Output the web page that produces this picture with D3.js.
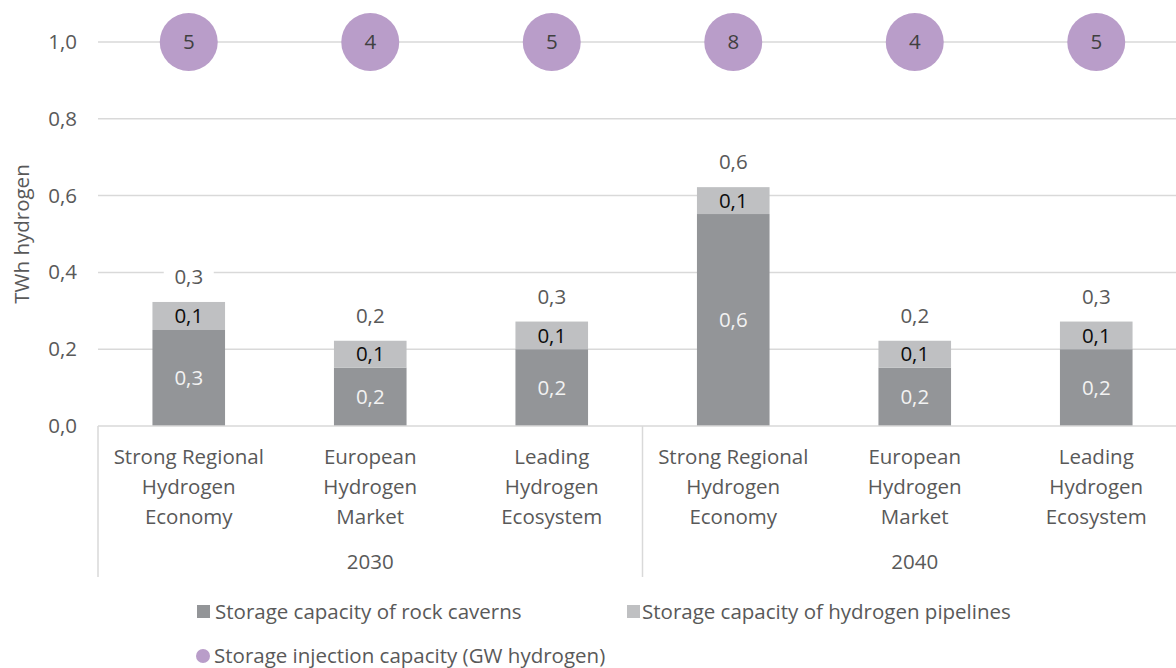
<!DOCTYPE html>
<html>
<head>
<meta charset="utf-8">
<script src="https://cdn.jsdelivr.net/npm/d3@7"></script>
<style>
  body { margin: 0; background: #fff; }
  text { font-family: "Open Sans", "Noto Sans", sans-serif; font-weight: 400; font-size: 20.5px; }
</style>
</head>
<body>
<script>
// Width and height
const w = 1176;
const h = 668;

// data
const categories = [
  ["Strong Regional", "Hydrogen", "Economy"],
  ["European", "Hydrogen", "Market"],
  ["Leading", "Hydrogen", "Ecosystem"],
  ["Strong Regional", "Hydrogen", "Economy"],
  ["European", "Hydrogen", "Market"],
  ["Leading", "Hydrogen", "Ecosystem"]
];
const years = ["2030", "2040"];
const rockCaverns = [0.25, 0.152, 0.2, 0.552, 0.152, 0.2];
const pipelines = [0.073, 0.07, 0.072, 0.07, 0.07, 0.072];
const injection = [5, 4, 5, 8, 4, 5];
const yTicks = [0, 0.2, 0.4, 0.6, 0.8, 1.0];
const seriesNames = ["Storage capacity of rock caverns", "Storage capacity of hydrogen pipelines", "Storage injection capacity (GW hydrogen)"];

const colRock = "#939598";
const colPipe = "#bfc0c2";
const colDot = "#b99dc9";
const textCol = "#595959";

const fmt = v => d3.format(".1f")(v).replace(".", ",");

// scales
const x = d3.scaleBand()
  .domain(d3.range(categories.length))
  .range([98, 1187])
  .paddingInner(0.6)
  .paddingOuter(0.3);

const xYear = d3.scaleBand()
  .domain(years)
  .range([98, 1187]);

const y = d3.scaleLinear()
  .domain([0, 1])
  .range([426, 42]);

// svg
const svg = d3.select("body")
  .append("svg")
  .attr("width", w)
  .attr("height", h);

// gridlines
svg.append("g")
  .selectAll("line")
  .data(yTicks.slice(1))
  .enter()
  .append("line")
  .attr("x1", 98)
  .attr("x2", w)
  .attr("y1", d => y(d))
  .attr("y2", d => y(d))
  .attr("stroke", "#d9d9d9")
  .attr("stroke-width", 1.5);

// y axis tick labels
const yAxis = d3.axisLeft(y)
  .tickValues(yTicks)
  .tickFormat(fmt)
  .tickSize(0)
  .tickPadding(21);

const yg = svg.append("g")
  .attr("transform", "translate(98,0)")
  .call(yAxis);
yg.select(".domain").remove();
yg.selectAll("text")
  .attr("fill", textCol)
  .attr("font-family", null)
  .attr("font-size", null);

// y title
svg.append("text")
  .attr("transform", "translate(29," + ((y(0) + y(1)) / 2) + ") rotate(-90)")
  .attr("text-anchor", "middle")
  .attr("fill", textCol)
  .text("TWh hydrogen");

// stacked bars
const rows = categories.map((c, i) => ({ i: i, rock: rockCaverns[i], pipe: pipelines[i] }));

const bars = svg.append("g")
  .selectAll("g")
  .data(rows)
  .enter()
  .append("g");

bars.append("rect")
  .attr("x", d => x(d.i))
  .attr("width", x.bandwidth())
  .attr("y", d => y(d.rock))
  .attr("height", d => y(0) - y(d.rock))
  .attr("fill", colRock);

bars.append("rect")
  .attr("x", d => x(d.i))
  .attr("width", x.bandwidth())
  .attr("y", d => y(d.rock + d.pipe))
  .attr("height", d => y(d.rock) - y(d.rock + d.pipe))
  .attr("fill", colPipe);

// segment labels
bars.append("text")
  .attr("x", d => x(d.i) + x.bandwidth() / 2)
  .attr("y", d => (y(0) + y(d.rock)) / 2)
  .attr("dy", "0.35em")
  .attr("text-anchor", "middle")
  .attr("fill", "#f2f2f2")
  .text(d => fmt(d.rock));

bars.append("text")
  .attr("x", d => x(d.i) + x.bandwidth() / 2)
  .attr("y", d => (y(d.rock) + y(d.rock + d.pipe)) / 2)
  .attr("dy", "0.35em")
  .attr("text-anchor", "middle")
  .attr("fill", "#0d0d0d")
  .text(d => fmt(d.pipe));

// totals with white box
bars.append("rect")
  .attr("x", d => x(d.i) + x.bandwidth() / 2 - 25)
  .attr("y", d => y(d.rock + d.pipe) - 38)
  .attr("width", 50)
  .attr("height", 26)
  .attr("fill", "#fff");

bars.append("text")
  .attr("x", d => x(d.i) + x.bandwidth() / 2)
  .attr("y", d => y(d.rock + d.pipe) - 25)
  .attr("dy", "0.35em")
  .attr("text-anchor", "middle")
  .attr("fill", textCol)
  .text(d => fmt(d.rock + d.pipe));

// injection bubbles
const dots = svg.append("g")
  .selectAll("g")
  .data(injection)
  .enter()
  .append("g")
  .attr("transform", (d, i) => "translate(" + (x(i) + x.bandwidth() / 2) + "," + y(1) + ")");

dots.append("circle")
  .attr("r", 29)
  .attr("fill", colDot);

dots.append("text")
  .attr("dy", "0.35em")
  .attr("text-anchor", "middle")
  .attr("fill", "#404040")
  .text(d => d);

// x axis line and separators
svg.append("line")
  .attr("x1", 98).attr("x2", w)
  .attr("y1", y(0)).attr("y2", y(0))
  .attr("stroke", "#d9d9d9")
  .attr("stroke-width", 1.5);

svg.append("g")
  .selectAll("line")
  .data(years)
  .enter()
  .append("line")
  .attr("x1", d => xYear(d)).attr("x2", d => xYear(d))
  .attr("y1", y(0)).attr("y2", 577)
  .attr("stroke", "#d9d9d9")
  .attr("stroke-width", 1.5);

// category labels
const cl = svg.append("g")
  .selectAll("text")
  .data(categories)
  .enter()
  .append("text")
  .attr("text-anchor", "middle")
  .attr("fill", textCol);

cl.selectAll("tspan")
  .data((d, i) => d.map(s => ({ s: s, i: i })))
  .enter()
  .append("tspan")
  .attr("x", d => x(d.i) + x.bandwidth() / 2)
  .attr("y", (d, k) => 457 + k * 30)
  .attr("dy", "0.35em")
  .text(d => d.s);

// year labels
svg.append("g")
  .selectAll("text")
  .data(years)
  .enter()
  .append("text")
  .attr("x", d => xYear(d) + (x(3) - x(0)) / 2)
  .attr("y", 562)
  .attr("dy", "0.35em")
  .attr("text-anchor", "middle")
  .attr("fill", textCol)
  .text(d => d);

// legend
const legend = svg.append("g");
const legendPos = [[197, 612], [627, 612], [196, 656]];

legend.append("rect")
  .attr("x", legendPos[0][0]).attr("y", legendPos[0][1] - 7)
  .attr("width", 13).attr("height", 13)
  .attr("fill", colRock);
legend.append("rect")
  .attr("x", legendPos[1][0]).attr("y", legendPos[1][1] - 7)
  .attr("width", 13).attr("height", 13)
  .attr("fill", colPipe);
legend.append("circle")
  .attr("cx", legendPos[2][0] + 7).attr("cy", legendPos[2][1])
  .attr("r", 7)
  .attr("fill", colDot);

legend.selectAll("text")
  .data(seriesNames)
  .enter()
  .append("text")
  .attr("x", (d, i) => legendPos[i][0] + (i === 1 ? 15 : 18))
  .attr("y", (d, i) => legendPos[i][1])
  .attr("dy", "0.35em")
  .attr("fill", textCol)
  .text(d => d);
</script>
</body>
</html>
